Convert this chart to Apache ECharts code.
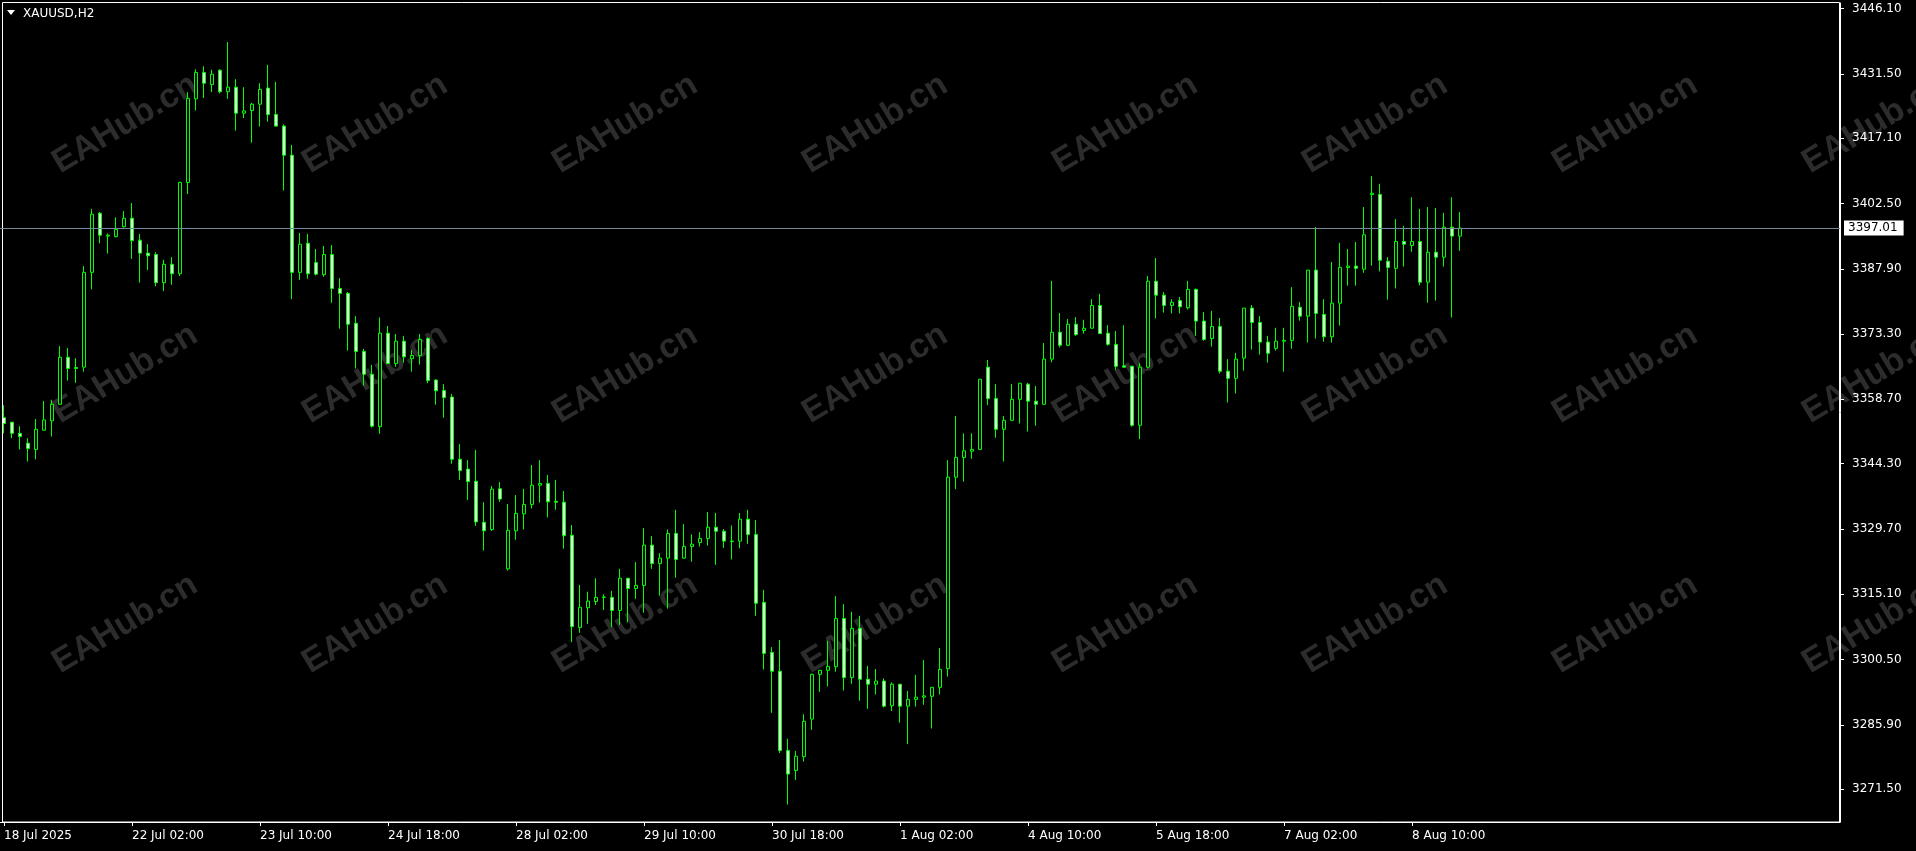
<!DOCTYPE html>
<html><head><meta charset="utf-8">
<style>html,body{margin:0;padding:0;background:#000;overflow:hidden}#chart{width:1916px;height:851px}</style>
<script src="https://cdn.jsdelivr.net/npm/echarts@6.0.0/dist/echarts.min.js"></script>
</head><body><div id="chart"></div>
<script>
const symbolName = 'XAUUSD,H2';
const firstAxisLabel = '18 Jul 2025';
const tradingDays = ['18 Jul','21 Jul','22 Jul','23 Jul','24 Jul','25 Jul','28 Jul','29 Jul','30 Jul','31 Jul','1 Aug','4 Aug','5 Aug','6 Aug','7 Aug','8 Aug'];
const firstBarHour = 18;
const priceTicks = [3271.50,3285.90,3300.50,3315.10,3329.70,3344.30,3358.70,3373.30,3387.90,3402.50,3417.10,3431.50,3446.10];
const bidPrice = 3397.01;
const watermarkText = 'EAHub.cn';

const opens = [3354.6,3353.6,3351.1,3348.9,3347.5,3351.8,3353.9,3357.6,3368.1,3365.8,3365.9,3387.1,3400.3,3395.2,3395.1,3397.3,
3399.2,3394.3,3391.4,3391.1,3384.8,3388.9,3386.8,3407.2,3425.9,3431.8,3429.1,3432.3,3427.5,3428.5,3422.7,3423.3,
3424.7,3428.3,3422.4,3419.8,3413.3,3387.1,3393.6,3389.3,3386.6,3391.1,3383.5,3382.4,3375.7,3369.4,3364.3,3352.6,
3373.5,3366.7,3371.7,3367.8,3368.5,3372.3,3363.0,3360.7,3359.2,3345.3,3343.1,3340.4,3331.2,3329.6,3338.7,3320.8,
3329.3,3333.1,3335.2,3339.5,3339.9,3335.9,3335.7,3328.3,3307.7,3312.1,3313.5,3314.4,3314.4,3311.5,3318.7,3316.4,
3317.1,3326.1,3322.0,3323.2,3328.7,3323.2,3325.8,3326.7,3327.6,3330.1,3329.2,3326.9,3327.0,3331.9,3328.5,3313.3,
3302.1,3297.9,3280.2,3275.7,3278.8,3287.2,3297.2,3298.1,3298.9,3309.7,3296.5,3307.5,3296.1,3295.0,3295.7,3290.2,
3295.0,3290.1,3291.6,3292.1,3292.3,3294.3,3298.5,3341.3,3345.7,3347.1,3347.5,3365.9,3358.9,3352.0,3354.0,3358.7,
3362.1,3358.3,3357.6,3367.7,3373.7,3370.8,3375.5,3374.1,3374.6,3379.7,3373.5,3371.0,3366.2,3366.1,3352.9,3365.9,
3385.1,3382.0,3379.7,3380.8,3379.2,3383.3,3376.2,3372.3,3375.0,3365.0,3363.4,3367.9,3379.1,3375.9,3371.5,3370.1,
3371.7,3371.9,3379.3,3377.3,3387.6,3377.7,3372.7,3380.2,3388.2,3388.5,3387.8,3404.5,3404.5,3389.6,3388.0,3394.0,
3393.1,3394.0,3384.9,3391.6,3390.5,3397.2,3395.2];
const closes = [3353.3,3351.1,3350.4,3347.7,3352.0,3354.1,3357.6,3368.1,3365.6,3365.6,3387.1,3400.1,3395.4,3395.4,3396.7,3399.2,
3394.2,3391.4,3390.8,3384.8,3388.9,3386.8,3407.2,3426.0,3431.8,3429.4,3431.4,3427.5,3428.5,3422.7,3423.2,3424.7,
3428.0,3422.4,3419.8,3413.3,3387.1,3393.4,3386.8,3386.7,3391.1,3383.5,3382.4,3375.5,3369.4,3364.3,3352.7,3373.5,
3366.7,3371.7,3368.2,3368.5,3372.1,3362.9,3360.6,3359.1,3345.3,3342.8,3340.3,3331.3,3329.3,3338.6,3336.4,3329.4,
3333.2,3335.2,3339.5,3339.9,3335.8,3335.7,3328.2,3307.9,3312.2,3313.6,3314.4,3314.5,3311.5,3318.7,3316.4,3317.1,
3326.1,3322.0,3323.2,3328.7,3322.9,3325.8,3326.3,3327.6,3330.1,3329.2,3327.0,3327.0,3331.9,3328.5,3313.1,3301.9,
3297.9,3280.2,3274.9,3278.9,3286.7,3297.2,3298.1,3299.0,3309.7,3296.5,3307.5,3296.1,3295.0,3295.7,3290.1,3295.0,
3290.1,3291.6,3292.1,3292.4,3294.3,3298.3,3341.3,3345.7,3347.2,3347.5,3363.2,3358.9,3352.0,3354.0,3358.7,3362.3,
3358.3,3357.6,3367.7,3373.7,3370.8,3375.5,3373.2,3374.6,3379.7,3373.4,3371.0,3366.1,3365.9,3352.9,3365.9,3385.1,
3382.0,3379.7,3380.4,3379.4,3383.3,3376.2,3372.1,3375.0,3365.0,3363.4,3367.7,3379.1,3375.9,3371.5,3369.0,3371.7,
3371.9,3379.5,3377.3,3387.6,3377.9,3372.7,3380.2,3388.2,3388.5,3388.0,3395.5,3404.8,3389.8,3388.2,3394.0,3393.4,
3394.0,3384.9,3391.6,3390.5,3397.2,3395.2,3397.0];
const lows = [3351.1,3350.0,3347.5,3344.8,3345.3,3351.8,3350.4,3357.6,3362.9,3362.4,3364.9,3383.3,3393.6,3391.3,3394.9,3397.1,
3390.1,3384.8,3387.6,3384.0,3382.9,3384.3,3386.3,3404.6,3423.3,3426.1,3427.4,3427.1,3425.9,3418.8,3421.6,3416.1,
3419.7,3420.8,3419.7,3405.4,3381.1,3385.4,3385.7,3386.4,3386.1,3380.3,3374.5,3369.6,3365.6,3361.8,3352.4,3351.0,
3366.7,3366.0,3366.9,3364.9,3366.5,3362.3,3357.5,3354.6,3344.3,3340.7,3336.2,3330.4,3324.9,3329.3,3335.8,3320.4,
3327.3,3329.6,3334.3,3335.6,3332.3,3334.0,3325.3,3304.4,3306.5,3308.5,3312.7,3311.6,3307.8,3308.3,3308.8,3314.1,
3311.0,3320.8,3314.8,3311.9,3318.8,3323.0,3322.4,3325.8,3326.0,3321.7,3325.5,3322.9,3325.4,3326.4,3310.3,3298.3,
3288.6,3279.6,3268.1,3273.6,3277.7,3284.8,3293.3,3294.5,3297.8,3293.6,3295.1,3291.3,3289.5,3292.7,3289.8,3289.0,
3286.4,3281.6,3290.0,3290.4,3285.1,3292.7,3296.7,3338.6,3340.3,3345.4,3347.5,3357.4,3350.1,3344.8,3353.9,3353.3,
3351.5,3352.8,3357.5,3367.0,3370.3,3370.6,3372.9,3373.4,3374.6,3373.4,3370.7,3365.3,3365.8,3352.6,3349.8,3365.6,
3376.8,3378.1,3377.9,3377.9,3378.8,3372.9,3371.8,3370.5,3364.5,3358.0,3360.0,3365.1,3369.8,3368.7,3366.9,3369.6,
3364.9,3370.0,3376.3,3371.4,3372.3,3371.6,3371.4,3375.2,3384.1,3384.1,3387.0,3388.6,3387.3,3381.0,3383.5,3388.4,
3391.7,3384.2,3380.3,3380.8,3388.4,3377.0,3391.9];
const highs = [3357.4,3353.6,3352.7,3350.0,3354.3,3358.3,3358.6,3370.6,3370.2,3367.9,3388.5,3401.3,3400.6,3395.8,3399.4,3400.8,
3402.6,3395.7,3393.4,3391.6,3389.9,3390.5,3407.4,3427.4,3432.5,3433.2,3432.4,3432.5,3438.6,3430.3,3428.5,3425.0,
3429.4,3433.5,3429.7,3420.2,3415.6,3395.9,3395.7,3392.3,3393.0,3393.2,3385.8,3382.7,3377.3,3370.0,3366.4,3377.0,
3375.1,3373.3,3372.9,3369.7,3373.3,3372.6,3363.2,3362.1,3359.9,3348.7,3345.1,3347.4,3335.7,3339.3,3340.2,3335.3,
3337.3,3338.7,3344.0,3345.1,3341.8,3340.7,3338.2,3330.6,3317.2,3315.7,3318.7,3315.1,3315.9,3320.8,3318.7,3322.3,
3329.9,3328.1,3324.3,3329.6,3334.0,3330.8,3328.5,3329.0,3333.5,3333.3,3329.7,3330.5,3333.3,3334.0,3331.7,3316.1,
3303.3,3304.9,3282.8,3280.1,3288.3,3297.4,3298.2,3304.7,3314.7,3312.9,3311.2,3310.3,3299.1,3298.4,3296.3,3295.4,
3295.0,3293.5,3297.1,3300.4,3294.3,3303.1,3345.1,3355.0,3351.1,3351.1,3363.2,3367.5,3362.1,3355.0,3362.1,3362.3,
3362.4,3361.7,3371.3,3385.2,3378.0,3376.7,3377.1,3376.5,3381.1,3382.3,3375.3,3374.0,3375.3,3366.2,3366.8,3386.3,
3390.3,3382.7,3381.1,3381.6,3385.2,3383.5,3378.2,3378.5,3376.9,3367.7,3369.1,3379.1,3379.8,3377.3,3372.9,3374.7,
3374.7,3383.8,3380.5,3387.6,3397.2,3381.1,3389.4,3393.7,3392.3,3393.9,3401.7,3408.6,3406.9,3390.5,3399.0,3397.5,
3403.9,3401.3,3401.7,3401.5,3400.4,3403.9,3400.6];

// time axis: H2 bars, 12 per trading day
const categories = [];
tradingDays.forEach((d, i) => {
  for (let h = (i === 0 ? firstBarHour : 0); h <= 22; h += 2) categories.push(d + ' ' + String(h).padStart(2, '0') + ':00');
});
const totalSlots = 230; // chart shift: empty space on the right
const axisCategories = categories.concat(new Array(totalSlots - categories.length).fill(''));
const ohlc = opens.map((o, i) => [o, closes[i], lows[i], highs[i]]);

const gridLeft = 0, gridRight = 76, gridTop = 3, gridBottom = 29;
const FONT = '"DejaVu Sans", sans-serif';

const graphics = [];
for (let r = 0; r < 3; r++) {
  for (let c = 0; c < 8; c++) {
    graphics.push({
      type: 'text', x: 125 + 250 * c, y: 124 + 250 * r, rotation: 31 * Math.PI / 180, z: 0, silent: true,
      style: { text: watermarkText, fill: '#2c2c2c', font: 'bold 34px "Liberation Sans", Arial, sans-serif', textAlign: 'center', textVerticalAlign: 'middle' }
    });
  }
}
graphics.push({ type: 'rect', shape: { x: 2.5, y: 2.5, width: 1837, height: 819.5 }, style: { fill: 'none', stroke: '#ffffff', lineWidth: 1 }, z: 5, silent: true });
graphics.push({ type: 'polygon', shape: { points: [[7, 10], [15, 10], [11, 15]] }, style: { fill: '#ffffff' }, z: 10 });
graphics.push({ type: 'text', x: 23, y: 14, style: { text: symbolName, fill: '#ffffff', font: '12px ' + FONT, textVerticalAlign: 'middle' }, z: 10 });

const chart = echarts.init(document.getElementById('chart'), null, { renderer: 'canvas' });
chart.setOption({
  backgroundColor: '#000000',
  animation: false,
  graphic: graphics,
  grid: { left: gridLeft, right: gridRight, top: gridTop, bottom: gridBottom, containLabel: false },
  xAxis: {
    type: 'category', data: axisCategories, boundaryGap: true,
    axisLine: { show: true, lineStyle: { color: '#ffffff' } },
    axisTick: { show: true, alignWithLabel: true, length: 4, interval: (i) => i < categories.length && i % 16 === 0, lineStyle: { color: '#ffffff' } },
    axisLabel: {
      show: true, color: '#ffffff', fontFamily: FONT, fontSize: 12, align: 'left', margin: 8,
      interval: (i) => i < categories.length && i % 16 === 0,
      formatter: (v, i) => (i === 0 ? firstAxisLabel : v)
    },
    splitLine: { show: false }
  },
  yAxis: {
    type: 'value', position: 'right', min: 3264.19, max: 3447.33, scale: true,
    axisLine: { show: true, lineStyle: { color: '#ffffff' } },
    axisTick: { show: true, length: 4, customValues: priceTicks, lineStyle: { color: '#ffffff' } },
    axisLabel: { show: true, color: '#ffffff', fontFamily: FONT, fontSize: 12, margin: 12, customValues: priceTicks, formatter: (v) => v.toFixed(2), padding: [3, 0, 0, 0] },
    splitLine: { show: false }
  },
  series: [{
    type: 'candlestick', data: ohlc, barWidth: 4, z: 3,
    itemStyle: { color: '#000000', color0: '#ffffff', borderColor: '#00ff00', borderColor0: '#00ff00', borderWidth: 1 },
    markLine: {
      silent: true, symbol: ['none', 'none'], animation: false,
      lineStyle: { color: '#778899', type: 'solid', width: 1 },
      label: { show: true, position: 'end', distance: 4, formatter: bidPrice.toFixed(2), color: '#000000', backgroundColor: '#ffffff', fontFamily: FONT, fontSize: 12, padding: [2, 6, 1, 4] },
      data: [{ yAxis: bidPrice }]
    }
  }]
});
</script></body></html>
